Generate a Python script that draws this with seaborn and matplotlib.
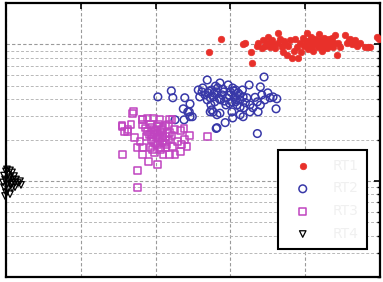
import numpy as np
import pandas as pd
import matplotlib
matplotlib.use("Agg")
import matplotlib.pyplot as plt
import seaborn as sns
from matplotlib.ticker import LogLocator, NullFormatter, FixedLocator

sns.set_style("white")
plt.rcParams['font.family'] = ['DejaVu Sans']

labels = ["RT1", "RT2", "RT3", "RT4"]

rt1_x = [2.71, 2.87, 3.17, 3.20, 3.28, 3.29, 3.36, 3.37, 3.44, 3.46, 3.49, 3.53, 3.56, 3.57,
         3.63, 3.64, 3.66, 3.69, 3.72, 3.73, 3.77, 3.80, 3.82, 3.85, 3.86, 3.89, 3.90, 3.93,
         3.94, 3.97, 3.98, 4.01, 4.03, 4.04, 4.05, 4.06, 4.08, 4.09, 4.10, 4.12, 4.13, 4.16,
         4.17, 4.18, 4.20, 4.21, 4.22, 4.24, 4.25, 4.26, 4.28, 4.29, 4.30, 4.32, 4.33, 4.34,
         4.36, 4.37, 4.39, 4.40, 4.42, 4.44, 4.47, 4.53, 4.56, 4.59, 4.60, 4.63, 4.64, 4.67,
         4.69, 4.73, 4.80, 4.84, 4.87, 4.96, 4.99, 3.70, 3.76, 3.60, 3.42, 3.50]
rt1_y = [8.75, 11.0, 10.0, 10.3, 8.75, 7.3, 9.8, 10.3, 10.7, 9.8, 10.3, 9.5, 10.7, 10.0,
         12.0, 10.2, 11.0, 9.5, 10.5, 10.0, 9.8, 10.7, 7.9, 9.0, 11.0, 9.5, 8.0, 10.3,
         8.75, 11.2, 9.8, 10.5, 12.0, 9.2, 10.0, 10.7, 11.4, 9.8, 9.0, 10.3, 11.0, 10.2,
         9.5, 11.8, 10.7, 9.8, 9.0, 10.2, 11.2, 11.0, 9.6, 9.35, 10.3, 10.9, 9.8, 10.5,
         11.2, 9.5, 10.2, 11.6, 8.3, 10.3, 9.6, 11.6, 10.2, 10.7, 11.0, 10.0, 10.3, 10.7,
         9.8, 10.2, 9.5, 9.5, 9.6, 11.4, 11.0, 8.75, 8.3, 9.35, 9.35, 11.4]

rt2_x = [2.03, 2.21, 2.23, 2.39, 2.37, 2.46, 2.45, 2.49, 2.69, 2.62, 2.59, 2.66, 2.70, 2.73,
         2.75, 2.77, 2.79, 2.82, 2.83, 2.86, 2.89, 2.75, 2.77, 2.82, 2.86, 2.82, 2.93, 2.97,
         2.95, 3.00, 3.02, 3.03, 3.06, 3.09, 3.10, 3.13, 3.16, 3.17, 3.02, 3.03, 3.13, 3.22,
         3.25, 3.26, 3.30, 3.36, 3.37, 3.40, 3.45, 3.42, 3.46, 3.50, 3.53, 3.57, 3.62, 3.61,
         3.36, 3.17, 3.26, 3.13, 2.63, 2.69, 2.87, 2.91, 2.94, 3.07, 3.18, 3.07, 2.57, 2.74,
         2.26, 2.38, 2.43, 2.46, 2.81, 2.73,
         2.78, 2.85, 2.90, 2.98, 3.05, 3.08, 2.99, 2.80, 2.92, 3.12, 2.72, 3.20, 3.33, 3.40]
rt2_y = [4.13, 4.57, 4.07, 4.07, 3.38, 3.67, 3.21, 2.96, 5.49, 4.49, 4.13, 4.27, 4.42, 4.07,
         4.64, 4.13, 3.80, 4.49, 4.80, 5.22, 4.27, 3.32, 3.21, 3.06, 3.14, 2.46, 2.68, 5.05,
         4.07, 4.49, 3.80, 4.80, 4.13, 3.61, 4.42, 3.93, 4.64, 4.13, 3.21, 2.90, 3.06, 4.07,
         5.05, 3.61, 3.44, 3.80, 3.21, 4.89, 5.77, 4.27, 3.93, 4.42, 4.07, 4.13, 4.00, 3.38,
         2.23, 2.96, 3.21, 3.49, 4.80, 3.93, 3.93, 4.49, 3.61, 3.80, 3.44, 4.64, 4.64, 3.61,
         2.81, 2.81, 3.21, 2.96, 2.43, 3.21,
         4.40, 4.00, 4.70, 4.25, 4.55, 3.95, 3.70, 4.95, 3.85, 4.30, 4.55, 3.75, 4.10, 3.60]

rt3_x = [1.70, 1.55, 1.58, 1.67, 1.63, 1.56, 1.76, 1.76, 1.82, 1.83, 1.89, 1.93, 1.95, 1.97,
         2.02, 2.03, 2.06, 2.09, 2.10, 2.13, 2.15, 2.17, 2.19, 2.22, 2.19, 2.02, 1.90, 1.83,
         1.93, 1.79, 1.72, 1.75, 1.82, 2.33, 2.35, 2.39, 2.42, 2.38, 2.45, 2.33, 2.26, 2.10,
         1.99, 2.69, 2.05, 1.89, 1.97, 2.29, 2.23, 2.06, 2.13, 2.02, 1.97, 2.03, 2.09, 1.99,
         1.95, 1.69, 1.55, 1.62, 1.83, 2.19,
         1.92, 2.00, 2.05, 2.08, 2.12, 2.16, 2.00, 1.94, 2.10, 2.18, 2.04, 1.88, 2.14, 2.07,
         1.96, 2.22, 2.25, 1.86]
rt3_y = [3.21, 2.55, 2.30, 2.59, 2.38, 1.57, 1.20, 0.905, 2.81, 2.59, 2.30, 2.59, 2.19, 2.38,
         2.08, 2.50, 2.26, 1.95, 2.46, 2.12, 1.85, 2.59, 2.26, 2.81, 1.57, 1.33, 1.40, 1.57,
         1.76, 1.95, 2.08, 1.76, 1.76, 2.34, 1.85, 2.02, 1.79, 2.43, 2.15, 1.65, 1.57, 1.57,
         1.62, 2.12, 2.81, 2.90, 2.90, 1.95, 1.79, 1.76, 1.76, 1.85, 1.95, 2.19, 2.08, 2.26,
         2.46, 3.14, 2.52, 2.30, 2.81, 2.81,
         2.20, 2.35, 2.05, 2.40, 1.90, 2.22, 1.88, 2.02, 2.15, 2.00, 2.62, 2.12, 2.55, 1.70,
         1.70, 2.15, 2.40, 2.45]

rt4_x = [-0.027, 0.0, 0.027, 0.053, 0.08, -0.013, 0.04, 0.094, 0.013, 0.067, 0.12, 0.16, 0.20,
         -0.027, 0.027, 0.08, 0.0, 0.053, -0.013, 0.107, 0.134, -0.04, 0.04, 0.08, 0.187,
         0.12, 0.013, 0.053]
rt4_y = [1.10, 1.18, 1.12, 1.07, 1.16, 1.03, 1.0, 1.03, 0.95, 0.94, 0.98, 0.97, 0.94,
         0.905, 0.875, 0.89, 0.83, 0.805, 0.78, 1.09, 1.03, 0.98, 1.05, 0.97, 1.0,
         0.905, 1.22, 1.20]

x_ticks = [0, 1, 2, 3, 4, 5]
y_major = [1, 10]

fig = plt.figure(figsize=(3.83, 2.82), dpi=100)
ax = fig.add_axes([0.0157, 0.018, 0.9765, 0.971])

sns.scatterplot(x=rt1_x, y=rt1_y, ax=ax, marker='o', s=22, color='#e8302a',
                edgecolor='#e8302a', linewidth=0.5, label=labels[0], zorder=3)
sns.scatterplot(x=rt2_x, y=rt2_y, ax=ax, marker='o', s=30, facecolor='none',
                edgecolor='#3838a8', linewidth=1.1, label=labels[1], zorder=3)
sns.scatterplot(x=rt3_x, y=rt3_y, ax=ax, marker='s', s=24, facecolor='none',
                edgecolor='#c044c0', linewidth=1.1, label=labels[2], zorder=3)
sns.scatterplot(x=rt4_x, y=rt4_y, ax=ax, marker='v', s=22, facecolor='none',
                edgecolor='black', linewidth=0.9, label=labels[3], zorder=3, clip_on=False)

ax.set_yscale('log')
ax.set_xlim(0, 5)
ax.set_ylim(0.2, 20)
ax.xaxis.set_major_locator(FixedLocator(x_ticks))
ax.yaxis.set_major_locator(FixedLocator(y_major))
ax.yaxis.set_minor_locator(LogLocator(base=10, subs=np.arange(2, 10) * 1.0, numticks=20))
ax.yaxis.set_minor_formatter(NullFormatter())
ax.set_xticklabels([])
ax.set_yticklabels([])
ax.tick_params(which='both', direction='in', top=True, right=True, color='black')
ax.tick_params(which='major', length=4, width=1.2)
ax.tick_params(which='minor', length=2.5, width=1.0)
ax.grid(True, which='major', axis='both', linestyle=(0, (3, 2)), color='#9a9a9a', linewidth=0.8)
ax.grid(True, which='minor', axis='y', linestyle=(0, (3, 2)), color='#b8b8b8', linewidth=0.7)
ax.set_axisbelow(True)
for sp in ax.spines.values():
    sp.set_linewidth(1.6)
    sp.set_color('black')
ax.set_xlabel('')
ax.set_ylabel('')

leg = ax.legend(loc='lower right', bbox_to_anchor=(0.965, 0.102), borderaxespad=0,
                frameon=True, fancybox=False, edgecolor='black', fontsize=10,
                labelspacing=0.62, handletextpad=1.0, borderpad=0.6, handlelength=2.3,
                markerscale=1.0)
leg.get_frame().set_linewidth(1.5)
leg.get_frame().set_alpha(1)
for t in leg.get_texts():
    t.set_color('#f0f0f0')

fig.savefig('out.png', dpi=100)
